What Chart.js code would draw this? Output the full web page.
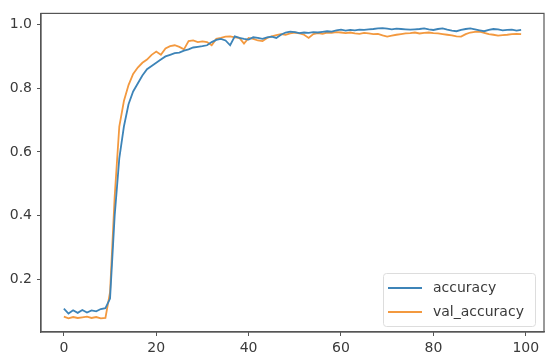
<!DOCTYPE html>
<html>
<head>
<meta charset="utf-8">
<script src="https://cdn.jsdelivr.net/npm/chart.js@4"></script>
<style>
  html, body { margin: 0; padding: 0; background: #fff; }
  #wrap { width: 550px; height: 363px; }
</style>
</head>
<body>
<div id="wrap"><canvas id="accChart" width="550" height="363"></canvas></div>
<script>
const epochs = Array.from({ length: 100 }, (_, i) => i);

const accuracy = [
  0.108, 0.093, 0.103, 0.095, 0.104, 0.096, 0.103, 0.100, 0.107, 0.110,
  0.14, 0.40, 0.58, 0.68, 0.75, 0.79, 0.815, 0.84, 0.86, 0.87,
  0.88, 0.89, 0.90, 0.905, 0.91, 0.912, 0.918, 0.922, 0.928, 0.93,
  0.932, 0.935, 0.945, 0.952, 0.955, 0.95, 0.935, 0.963, 0.958, 0.955,
  0.953, 0.96, 0.958, 0.955, 0.96, 0.962, 0.958, 0.968, 0.975, 0.978,
  0.976, 0.973, 0.975, 0.974, 0.976, 0.975, 0.977, 0.979, 0.978, 0.982,
  0.984, 0.981, 0.983, 0.982, 0.984, 0.983, 0.985, 0.986, 0.988, 0.989,
  0.987, 0.985, 0.987, 0.986, 0.985, 0.984, 0.985, 0.986, 0.988, 0.985,
  0.983, 0.986, 0.988, 0.984, 0.981, 0.979, 0.983, 0.986, 0.988, 0.985,
  0.982, 0.979, 0.983, 0.986, 0.985, 0.982, 0.983, 0.984, 0.981, 0.983
];

const valAccuracy = [
  0.083, 0.078, 0.082, 0.079, 0.081, 0.083, 0.079, 0.082, 0.078, 0.079,
  0.16, 0.46, 0.68, 0.76, 0.81, 0.845, 0.865, 0.88, 0.89, 0.905,
  0.915, 0.905, 0.925, 0.932, 0.935, 0.93, 0.922, 0.948, 0.95, 0.945,
  0.947, 0.945, 0.935, 0.955, 0.958, 0.962, 0.963, 0.96, 0.958, 0.94,
  0.958, 0.955, 0.95, 0.948, 0.958, 0.963, 0.967, 0.97, 0.968, 0.972,
  0.975, 0.972, 0.968, 0.958, 0.97, 0.973, 0.971, 0.975, 0.974, 0.976,
  0.975, 0.973, 0.975, 0.972, 0.971, 0.974, 0.972, 0.970, 0.971, 0.966,
  0.962, 0.965, 0.968, 0.97, 0.972, 0.973, 0.975, 0.972, 0.974, 0.975,
  0.973, 0.972, 0.970, 0.968, 0.966, 0.963, 0.962, 0.97, 0.975, 0.977,
  0.978, 0.974, 0.970, 0.968, 0.965, 0.967, 0.968, 0.970, 0.971, 0.970
];

const xTicks = [0, 20, 40, 60, 80, 100];
const yTicks = [0.2, 0.4, 0.6, 0.8, 1.0];

const BLUE = "#3d84b8";
const ORANGE = "#f3993f";
const AXIS = "#555";
const TEXT = "#3a3a3a";

// frame round the plot + matplotlib style legend in the lower right
const framePlugin = {
  id: "frame",
  afterDatasetsDraw(chart) {
    const { ctx, chartArea: a } = chart;
    ctx.save();
    ctx.strokeStyle = AXIS;
    ctx.lineWidth = 1.2;
    ctx.strokeRect(a.left, a.top, a.right - a.left, a.bottom - a.top);

    // legend box
    const bx = 383, by = 273, bw = 152, bh = 53;
    ctx.fillStyle = "rgba(255,255,255,0.85)";
    ctx.strokeStyle = "#ddd";
    ctx.lineWidth = 1;
    ctx.beginPath();
    ctx.roundRect(bx + 0.5, by + 0.5, bw, bh, 3);
    ctx.fill();
    ctx.stroke();
    ctx.font = "14px 'DejaVu Sans'";
    ctx.textBaseline = "middle";
    chart.data.datasets.forEach((ds, i) => {
      const y = by + 15 + i * 24;
      ctx.strokeStyle = ds.borderColor;
      ctx.lineWidth = 2;
      ctx.beginPath();
      ctx.moveTo(bx + 5, y);
      ctx.lineTo(bx + 39, y);
      ctx.stroke();
      ctx.fillStyle = TEXT;
      ctx.fillText(ds.label, bx + 50, y);
    });
    ctx.restore();
  }
};

new Chart(document.getElementById("accChart"), {
  type: "line",
  data: {
    labels: epochs,
    datasets: [
      {
        label: "accuracy",
        data: epochs.map((e, i) => ({ x: e, y: accuracy[i] })),
        borderColor: BLUE,
        borderWidth: 1.8,
        pointRadius: 0,
        tension: 0,
      },
      {
        label: "val_accuracy",
        data: epochs.map((e, i) => ({ x: e, y: valAccuracy[i] })),
        borderColor: ORANGE,
        borderWidth: 1.8,
        pointRadius: 0,
        tension: 0,
      },
    ],
  },
  options: {
    responsive: false,
    animation: false,
    layout: { padding: { left: 0, right: 6, top: 6, bottom: 0 } },
    plugins: {
      legend: { display: false },
      tooltip: { enabled: false },
    },
    scales: {
      x: {
        type: "linear",
        min: -4.95,
        max: 103.95,
        afterBuildTicks: (scale) => {
          scale.ticks = xTicks.map((v) => ({ value: v }));
        },
        afterFit: (scale) => {
          scale.height = 31;
        },
        grid: {
          drawOnChartArea: false,
          drawTicks: true,
          tickLength: 4,
          color: AXIS,
        },
        border: { display: true, color: AXIS, width: 1.2 },
        ticks: {
          color: TEXT,
          font: { family: "DejaVu Sans", size: 14 },
          padding: 4,
          maxRotation: 0,
          autoSkip: false,
        },
      },
      y: {
        type: "linear",
        min: 0.035,
        max: 1.035,
        afterBuildTicks: (scale) => {
          scale.ticks = yTicks.map((v) => ({ value: v }));
        },
        afterFit: (scale) => {
          scale.width = 41;
        },
        grid: {
          drawOnChartArea: false,
          drawTicks: true,
          tickLength: 4,
          color: AXIS,
        },
        border: { display: true, color: AXIS, width: 1.2 },
        ticks: {
          color: TEXT,
          font: { family: "DejaVu Sans", size: 14 },
          padding: 5,
          autoSkip: false,
          callback: (v) => v.toFixed(1),
        },
      },
    },
  },
  plugins: [framePlugin],
});
</script>
</body>
</html>
